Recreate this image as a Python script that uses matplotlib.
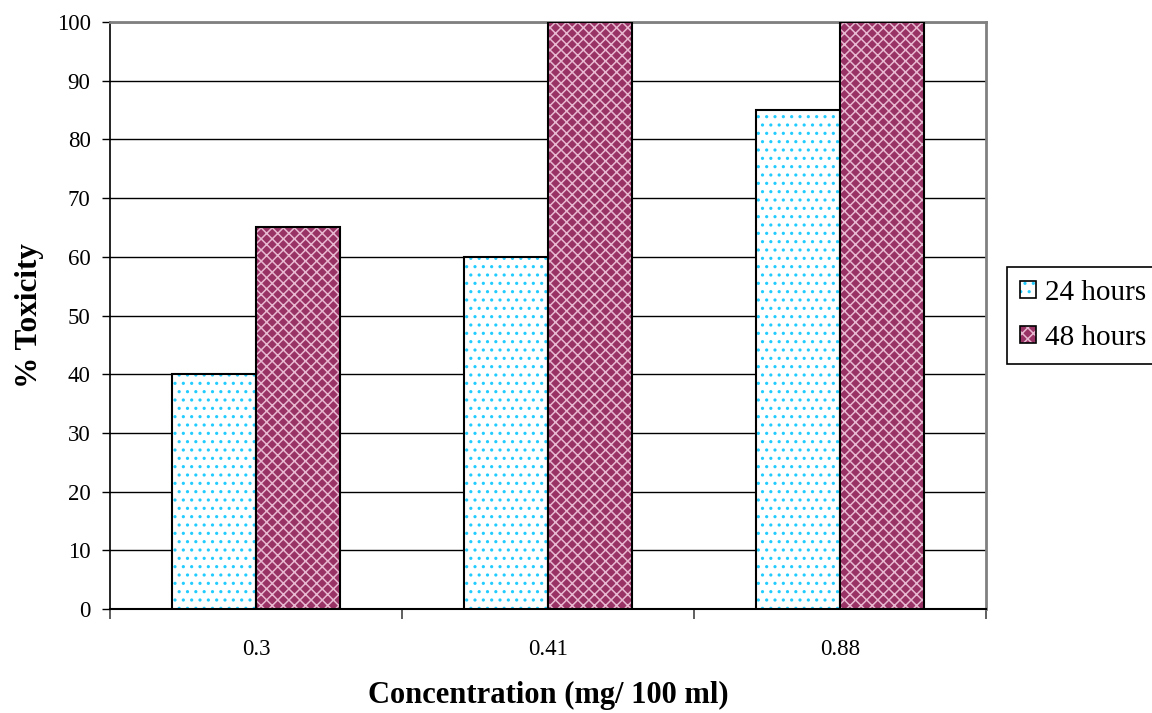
import numpy as np
import matplotlib.pyplot as plt
from matplotlib.patches import Patch

# data
concentrations = ['0.3', '0.41', '0.88']
tox_24h = [40, 60, 85]
tox_48h = [65, 100, 100]
series_names = ['24 hours', '48 hours']

plt.rcParams['font.family'] = ['Liberation Serif', 'DejaVu Serif']
plt.rcParams['hatch.linewidth'] = 1.1

fig = plt.figure(figsize=(11.52, 7.13), dpi=100)
ax = fig.add_axes([0.0955, 0.146, 0.7605, 0.823])

x = np.arange(len(concentrations))
w = 0.288

dot_kw = dict(facecolor='white', edgecolor='#22CCFF', hatch='..')
weave_kw = dict(facecolor='#993366', edgecolor='#E8B8D0', hatch='xxx')

# 24 hours: white with cyan dots
ax.bar(x - w / 2, tox_24h, w, linewidth=0, zorder=3, **dot_kw)
ax.bar(x - w / 2, tox_24h, w, fill=False, edgecolor='black', linewidth=1.5, zorder=4)

# 48 hours: maroon with light weave
ax.bar(x + w / 2, tox_48h, w, linewidth=0, zorder=3, **weave_kw)
ax.bar(x + w / 2, tox_48h, w, fill=False, edgecolor='black', linewidth=1.5, zorder=4)

ax.set_xlim(-0.5, len(concentrations) - 0.5)
ax.set_ylim(0, 100)
ax.set_yticks(np.arange(0, 101, 10))
ax.yaxis.grid(True, color='black', linewidth=1)
ax.set_axisbelow(True)

# category boundaries as ticks, labels at centres
ax.set_xticks(np.arange(-0.5, len(concentrations), 1.0))
ax.set_xticklabels([])
ax.set_xticks(x, minor=True)
ax.set_xticklabels(concentrations, minor=True)
ax.tick_params(axis='x', which='minor', length=0, pad=22, labelsize=16.5)
ax.tick_params(axis='x', which='major', length=7, width=1.2, color='#444444')
ax.tick_params(axis='y', length=6, width=1, labelsize=16.5, pad=8)

for side in ['top', 'right']:
    ax.spines[side].set_color('#808080')
    ax.spines[side].set_linewidth(2)
ax.spines['left'].set_linewidth(1.2)
ax.spines['bottom'].set_linewidth(1.5)

ax.set_xlabel('Concentration (mg/ 100 ml)', fontsize=22, fontweight='bold', labelpad=15)
ax.set_ylabel('% Toxicity', fontsize=22.5, fontweight='bold', labelpad=9)

# legend squares: pattern patch overlaid with a black outline
outline = dict(fill=False, edgecolor='black', linewidth=1.2)
handles = [(Patch(linewidth=0, **dot_kw), Patch(**outline)),
           (Patch(linewidth=0, **weave_kw), Patch(**outline))]
leg = fig.legend(handles, series_names, loc='upper left', bbox_to_anchor=(0.874, 0.626),
                 fontsize=21, frameon=True, fancybox=False, framealpha=1,
                 handlelength=0.55, handleheight=0.55, handletextpad=0.3,
                 borderpad=0.45, labelspacing=0.65, borderaxespad=0)
leg.get_frame().set_edgecolor('black')
leg.get_frame().set_linewidth(1.2)

fig.savefig('out.png', dpi=100)
